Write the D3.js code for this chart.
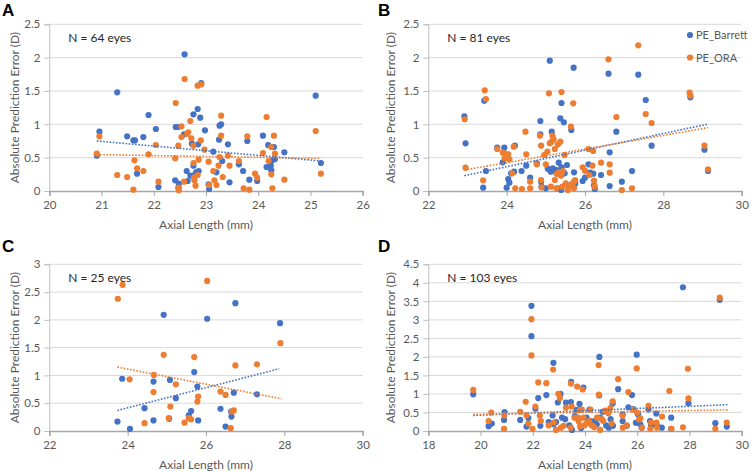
<!DOCTYPE html>
<html><head><meta charset="utf-8">
<script src="https://cdn.jsdelivr.net/npm/d3@7"></script>
<style>
html,body{margin:0;padding:0;background:#fff;}
svg{display:block;font-family:Lato,"Open Sans",sans-serif;}
</style></head>
<body>
<svg id="chart" width="753" height="472"></svg>
<script>
// ---------- DATA ----------
const seriesNames = ["PE_Barrett", "PE_ORA"];
const panelLabels = ["A", "B", "C", "D"];
const panelN = ["N = 64 eyes", "N = 81 eyes", "N = 25 eyes", "N = 103 eyes"];
const xDomains = [[20, 26], [22, 30], [22, 30], [18, 30]];
const yDomains = [[0, 2.5], [0, 2.5], [0, 3], [0, 4.5]];
const xTickStep = [1, 2, 2, 2];
const yTickStep = [0.5, 0.5, 0.5, 0.5];
const xTitle = "Axial Length (mm)";
const yTitle = "Absolute Prediction Error (D)";

const barrettA = [[20.91,0.53],[20.96,0.89],[21.30,1.48],[21.49,0.82],[21.61,0.76],[21.64,0.76],[21.68,0.26],[21.80,0.81],[21.90,1.14],[22.04,0.93],[22.09,0.06],[22.42,0.96],[22.46,0.96],[22.41,0.16],[22.48,0.11],[22.47,0.05],[22.59,2.05],[22.58,0.85],[22.63,0.30],[22.65,0.15],[22.70,0.23],[22.73,0.71],[22.76,0.38],[22.76,1.15],[22.78,0.24],[22.84,1.23],[22.85,0.70],[22.81,0.28],[22.86,0.30],[22.89,1.10],[22.91,1.62],[22.98,0.91],[23.05,0.10],[23.06,0.03],[23.14,0.59],[23.20,0.28],[23.25,0.77],[23.26,0.98],[23.29,1.00],[23.31,0.45],[23.42,0.70],[23.45,0.13],[23.63,0.40],[23.71,0.30],[23.79,0.75],[23.83,0.17],[23.98,0.15],[24.09,0.83],[24.16,0.36],[24.19,0.69],[24.24,0.38],[24.25,0.31],[24.27,0.46],[24.30,0.66],[24.32,0.48],[24.50,0.58],[25.10,1.43],[25.20,0.42]];
const oraA = [[20.91,0.56],[20.96,0.82],[21.30,0.24],[21.49,0.21],[21.61,0.02],[21.63,0.46],[21.68,0.34],[21.80,0.30],[21.90,0.55],[22.04,0.69],[22.09,0.14],[22.42,1.32],[22.41,0.49],[22.47,0.68],[22.48,0.05],[22.48,0.01],[22.53,0.97],[22.53,0.81],[22.58,0.14],[22.59,1.68],[22.64,0.86],[22.66,0.88],[22.70,1.05],[22.72,0.79],[22.76,0.68],[22.76,0.42],[22.77,0.20],[22.78,0.16],[22.80,0.08],[22.84,1.58],[22.84,0.24],[22.86,0.47],[22.90,0.76],[22.91,1.60],[22.97,0.62],[23.05,0.44],[23.06,0.09],[23.14,0.30],[23.16,0.16],[23.20,0.09],[23.24,0.38],[23.26,0.51],[23.29,1.13],[23.29,0.83],[23.32,0.21],[23.42,0.53],[23.45,0.38],[23.63,0.45],[23.72,0.04],[23.79,0.82],[23.83,0.02],[23.94,0.26],[23.98,0.20],[24.09,0.57],[24.16,1.11],[24.20,0.45],[24.25,0.66],[24.25,0.25],[24.27,0.04],[24.30,0.83],[24.32,0.56],[24.50,0.17],[25.10,0.90],[25.20,0.26]];

const barrettB = [[22.92,1.12],[22.95,0.715],[23.40,0.05],[23.43,1.355],[23.47,0.30],[23.76,0.65],[23.90,0.43],[23.94,0.65],[24.00,0.05],[24.04,0.18],[24.07,0.125],[24.11,0.265],[24.19,0.29],[24.21,0.68],[24.38,0.30],[24.50,0.38],[24.60,0.20],[24.77,0.415],[24.86,1.05],[24.86,0.85],[24.88,0.14],[24.89,0.065],[25.00,0.04],[25.05,0.335],[25.10,1.955],[25.10,0.315],[25.13,0.29],[25.15,0.89],[25.18,0.34],[25.23,0.305],[25.27,0.315],[25.30,0.04],[25.33,0.425],[25.37,1.09],[25.39,0.015],[25.40,1.32],[25.40,0.355],[25.43,0.265],[25.46,1.03],[25.48,0.265],[25.54,0.39],[25.65,0.915],[25.69,0.08],[25.71,1.85],[25.72,0.28],[25.75,0.11],[25.94,0.15],[26.00,0.20],[26.09,0.40],[26.13,0.275],[26.21,0.26],[26.23,0.085],[26.25,0.03],[26.41,0.24],[26.60,1.76],[26.63,0.58],[26.63,0.075],[26.80,0.89],[26.94,0.14],[27.20,0.30],[27.36,1.745],[27.55,1.365],[27.70,0.68],[28.69,1.405],[29.05,0.62],[29.14,0.30]];
const oraB = [[22.93,1.075],[22.95,0.35],[23.40,0.16],[23.44,1.51],[23.47,1.38],[23.76,0.63],[23.90,0.575],[23.95,0.49],[23.98,0.555],[24.04,0.55],[24.07,0.475],[24.14,0.265],[24.18,0.665],[24.22,0.04],[24.39,0.03],[24.48,0.89],[24.50,0.55],[24.60,0.14],[24.60,0.04],[24.77,0.40],[24.85,0.83],[24.88,0.68],[24.88,0.165],[24.89,0.055],[24.96,0.54],[25.00,0.40],[25.04,0.59],[25.08,1.465],[25.10,0.715],[25.13,0.065],[25.15,0.74],[25.17,0.83],[25.20,0.775],[25.23,0.63],[25.23,0.165],[25.27,0.04],[25.28,0.255],[25.31,0.70],[25.33,0.28],[25.37,0.74],[25.39,0.23],[25.40,1.485],[25.42,0.065],[25.44,0.30],[25.48,0.54],[25.51,0.115],[25.56,0.015],[25.58,0.065],[25.64,0.965],[25.66,0.105],[25.70,1.315],[25.72,0.14],[25.75,0.165],[25.72,0.04],[25.94,0.355],[26.00,0.305],[26.09,0.63],[26.11,0.24],[26.19,0.38],[26.21,0.60],[26.23,0.155],[26.25,0.065],[26.41,0.425],[26.60,1.975],[26.63,0.275],[26.63,0.40],[26.80,1.11],[26.94,0.015],[27.20,0.04],[27.36,2.185],[27.55,1.155],[27.70,1.02],[28.67,1.475],[28.69,1.43],[29.05,0.68],[29.14,0.325]];

const barrettC = [[23.74,0.17],[23.86,0.94],[24.06,0.04],[24.43,0.41],[24.66,0.19],[24.66,0.89],[24.92,2.09],[25.06,0.22],[25.08,0.92],[25.23,0.59],[25.56,0.28],[25.62,0.36],[25.70,1.06],[25.78,0.80],[25.80,0.19],[26.03,2.02],[26.37,0.40],[26.50,0.08],[26.65,0.26],[26.64,0.35],[26.71,0.69],[26.75,2.30],[27.30,0.66],[27.89,1.94]];
const oraC = [[23.75,2.38],[23.87,2.63],[24.05,0.93],[24.43,0.14],[24.66,0.70],[24.67,1.01],[24.92,1.37],[25.05,0.23],[25.09,0.44],[25.23,0.84],[25.45,0.15],[25.56,0.23],[25.62,0.21],[25.70,1.33],[25.78,0.53],[25.80,0.62],[26.03,2.70],[26.37,0.71],[26.50,0.65],[26.63,0.05],[26.66,0.35],[26.71,0.37],[26.75,1.18],[27.30,1.20],[27.90,1.58]];

const barrettD = [[19.72,0.99],[20.31,0.13],[20.43,0.20],[20.90,0.30],[20.92,0.51],[21.52,0.30],[21.76,0.12],[21.83,0.35],[21.95,3.38],[21.95,2.56],[22.10,0.60],[22.21,0.89],[22.29,0.14],[22.52,0.97],[22.61,0.24],[22.76,0.42],[22.79,1.84],[22.80,0.18],[22.89,0.24],[22.96,0.77],[23.06,1.00],[23.12,0.36],[23.24,0.32],[23.27,0.77],[23.40,0.15],[23.46,0.78],[23.47,1.33],[23.50,0.03],[23.61,0.40],[23.68,0.57],[23.79,0.73],[23.85,0.08],[23.94,1.17],[24.06,0.36],[24.17,0.58],[24.21,0.27],[24.30,0.23],[24.38,0.27],[24.45,0.18],[24.55,2.00],[24.54,0.96],[24.58,0.36],[24.68,0.52],[24.81,0.15],[24.91,0.09],[24.98,0.32],[25.06,0.74],[25.07,0.14],[25.27,1.13],[25.44,0.27],[25.44,0.45],[25.60,0.14],[25.66,0.64],[25.80,0.97],[25.85,0.59],[25.98,2.06],[25.95,0.22],[26.03,0.45],[26.12,0.18],[26.17,0.09],[26.43,0.58],[26.49,0.27],[26.53,0.15],[26.73,0.47],[26.76,0.14],[26.94,0.09],[27.30,0.36],[27.30,0.06],[27.75,3.88],[27.96,0.75],[28.99,0.21],[29.16,3.54],[29.43,0.12]];
const oraD = [[19.72,1.11],[20.31,0.27],[20.41,0.50],[20.90,0.06],[20.91,0.42],[21.52,0.52],[21.73,0.79],[21.76,0.42],[21.83,0.20],[21.95,3.02],[21.95,2.04],[21.99,0.06],[22.10,0.66],[22.21,1.31],[22.27,0.42],[22.31,0.27],[22.52,1.29],[22.61,0.15],[22.78,1.66],[22.80,0.23],[22.89,0.03],[22.98,1.00],[23.04,0.89],[23.08,0.09],[23.18,0.14],[23.27,0.63],[23.46,1.28],[23.49,0.66],[23.46,0.09],[23.60,0.36],[23.70,1.20],[23.73,0.36],[23.75,0.27],[23.80,0.57],[23.81,0.13],[23.88,0.58],[23.91,1.12],[23.94,0.36],[23.97,0.15],[24.06,0.20],[24.15,0.27],[24.21,0.58],[24.26,0.15],[24.36,0.10],[24.46,0.36],[24.52,1.78],[24.53,0.98],[24.58,0.03],[24.64,0.32],[24.70,0.27],[24.77,0.55],[24.89,0.48],[24.97,0.62],[25.02,0.20],[25.06,0.80],[25.27,1.40],[25.44,0.41],[25.45,0.09],[25.60,0.15],[25.66,1.05],[25.83,0.58],[25.98,1.69],[25.99,0.50],[26.07,0.31],[26.12,0.34],[26.17,0.09],[26.43,0.68],[26.50,0.06],[26.53,0.23],[26.74,0.23],[26.76,0.09],[26.95,0.39],[27.23,1.08],[27.31,0.06],[27.75,0.10],[27.94,1.68],[27.96,0.88],[28.99,0.06],[29.16,3.60],[29.43,0.23]];

// Linear trend lines (start / end points)
const trendBarrett = [[[20.91,0.75],[25.20,0.45]], [[22.92,0.23],[29.11,1.00]], [[23.74,0.37],[27.87,1.12]], [[19.72,0.42],[29.46,0.71]]];
const trendOra     = [[[20.91,0.545],[25.20,0.49]], [[22.92,0.315],[29.14,0.95]], [[23.74,1.15],[27.93,0.58]], [[19.72,0.45],[29.46,0.57]]];

const barrettPoints = [barrettA, barrettB, barrettC, barrettD];
const oraPoints = [oraA, oraB, oraC, oraD];

// ---------- STYLE / LAYOUT ----------
const colors = ["#4472C4", "#ED7D31"];
const layout = [
  {x0: 49.3, x1: 362.7, y0: 191, y1: 24.3, ox: 0, oy: 0},
  {x0: 428.3, x1: 741.7, y0: 191, y1: 24.3, ox: 376, oy: 0},
  {x0: 49.3, x1: 362.7, y0: 431, y1: 264.3, ox: 0, oy: 236},
  {x0: 428.3, x1: 741.7, y0: 431, y1: 264.3, ox: 376, oy: 236}
];
const textColor = "#595959";
const svg = d3.select("#chart");

function ticks(domain, step) {
  const n = Math.round((domain[1] - domain[0]) / step);
  return d3.range(n + 1).map(i => +(domain[0] + i * step).toFixed(4));
}

layout.forEach((L, i) => {
  const g = svg.append("g");
  const x = d3.scaleLinear().domain(xDomains[i]).range([L.x0, L.x1]);
  const y = d3.scaleLinear().domain(yDomains[i]).range([L.y0, L.y1]);
  const xt = ticks(xDomains[i], xTickStep[i]);
  const yt = ticks(yDomains[i], yTickStep[i]);

  // gridlines
  g.append("g").selectAll("line").data(yt.slice(1)).join("line")
    .attr("x1", L.x0).attr("x2", L.x1)
    .attr("y1", d => y(d)).attr("y2", d => y(d))
    .attr("stroke", "#d9d9d9").attr("stroke-width", 1);

  // y axis
  const yAxis = g.append("g").attr("transform", `translate(${L.x0},0)`)
    .call(d3.axisLeft(y).tickValues(yt).tickSize(5).tickPadding(4).tickFormat(d3.format("~g")));
  yAxis.select(".domain").attr("stroke", "#bfbfbf");
  yAxis.selectAll(".tick line").attr("stroke", "#bfbfbf");
  yAxis.selectAll("text").attr("fill", textColor).style("font-size", "11.5px").style("font-family", "Lato");

  // x axis
  const xAxis = g.append("g").attr("transform", `translate(0,${L.y0})`)
    .call(d3.axisBottom(x).tickValues(xt).tickSize(5).tickPadding(5).tickFormat(d3.format("d")));
  xAxis.select(".domain").attr("stroke", "#a6a6a6").attr("stroke-width", 1.5);
  xAxis.selectAll(".tick line").attr("stroke", "#a6a6a6");
  xAxis.selectAll("text").attr("fill", textColor).style("font-size", "11.5px").style("font-family", "Lato");

  // points: Barrett then ORA
  [barrettPoints[i], oraPoints[i]].forEach((pts, s) => {
    g.append("g").selectAll("circle").data(pts).join("circle")
      .attr("cx", d => x(d[0])).attr("cy", d => y(d[1]))
      .attr("r", 3.1).attr("fill", colors[s]);
  });

  // trend lines
  [trendBarrett[i], trendOra[i]].forEach((t, s) => {
    g.append("line")
      .attr("x1", x(t[0][0])).attr("y1", y(t[0][1]))
      .attr("x2", x(t[1][0])).attr("y2", y(t[1][1]))
      .attr("stroke", colors[s]).attr("stroke-width", 1.6)
      .attr("stroke-dasharray", "1.6,1.6");
  });

  // N label
  g.append("text").attr("x", L.x0 + 19).attr("y", L.y1 + 18)
    .text(panelN[i]).attr("fill", "#262626").style("font-size", "12px").style("font-family", "Lato");

  // axis titles
  g.append("text").attr("x", (L.x0 + L.x1) / 2).attr("y", L.y0 + 38)
    .attr("text-anchor", "middle").text(xTitle)
    .attr("fill", textColor).style("font-size", "12px").style("font-family", "Lato");
  const yc = (L.y0 + L.y1) / 2;
  g.append("text").attr("transform", `translate(${L.ox + 19},${yc}) rotate(-90)`)
    .attr("text-anchor", "middle").text(yTitle)
    .attr("fill", textColor).style("font-size", "12px").style("font-family", "Lato");

  // panel letter
  g.append("text").attr("x", L.ox + 2).attr("y", L.oy + 15.5)
    .text(panelLabels[i]).attr("fill", "#000").style("font-size", "17px")
    .style("font-weight", "bold").style("font-family", "Liberation Sans, Arial, sans-serif");

  // legend (panel B)
  if (i === 1) {
    seriesNames.forEach((name, s) => {
      const ly = 35 + s * 22.5;
      g.append("circle").attr("cx", 690).attr("cy", ly).attr("r", 3.1).attr("fill", colors[s]);
      g.append("text").attr("x", 696).attr("y", ly + 4).text(name)
        .attr("fill", textColor).style("font-size", "11px").style("font-family", "Lato");
    });
  }
});
</script>
</body></html>
